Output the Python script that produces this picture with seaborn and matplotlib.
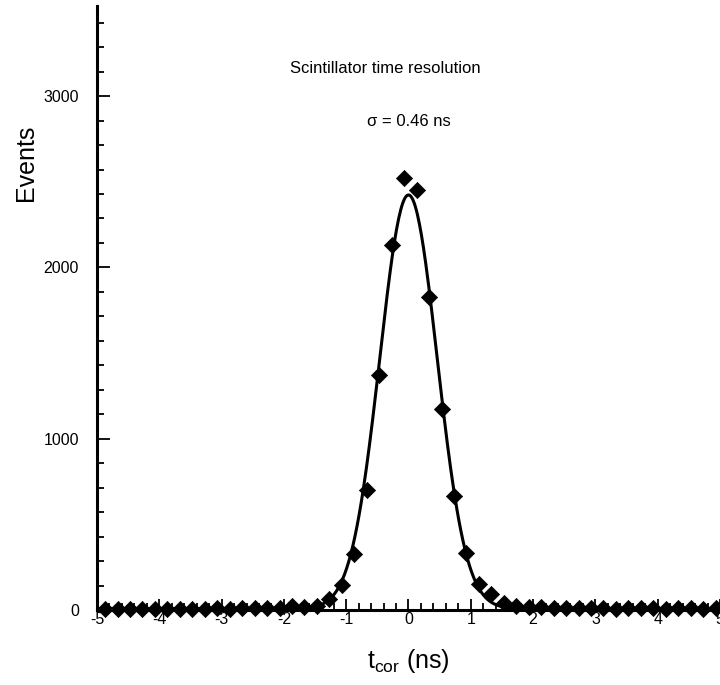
import numpy as np
import pandas as pd
import seaborn as sns
import matplotlib.pyplot as plt
from matplotlib.ticker import MultipleLocator, AutoMinorLocator

# bin centres (ns) and counts
t_bins = [-4.87, -4.67, -4.47, -4.27, -4.07, -3.87, -3.67, -3.47, -3.27, -3.07,
          -2.87, -2.67, -2.47, -2.27, -2.07, -1.87, -1.67, -1.47, -1.27, -1.07,
          -0.87, -0.67, -0.47, -0.27, -0.07, 0.13, 0.33, 0.53, 0.73, 0.93,
          1.13, 1.33, 1.53, 1.73, 1.93, 2.13, 2.33, 2.53, 2.73, 2.93,
          3.13, 3.33, 3.53, 3.73, 3.93, 4.13, 4.33, 4.53, 4.73, 4.93]
events = [5, 6, 4, 7, 5, 6, 8, 6, 7, 9,
          8, 10, 9, 12, 14, 22, 20, 22, 63, 146,
          327, 702, 1370, 2129, 2522, 2450, 1830, 1172, 668, 332,
          152, 92, 39, 23, 19, 16, 12, 10, 11, 9,
          10, 8, 11, 9, 10, 8, 9, 10, 8, 9]

# gaussian fit parameters
fit_amp = 2415
fit_mean = 0.0
fit_sigma = 0.46
fit_base = 8

df = pd.DataFrame({"t": t_bins, "events": events})
t_fit = np.linspace(-5, 5, 600)
fit = pd.DataFrame({"t": t_fit,
                    "events": fit_base + fit_amp * np.exp(-0.5 * ((t_fit - fit_mean) / fit_sigma) ** 2)})

sns.set_style("ticks")
plt.rcParams['font.family'] = ['Liberation Sans', 'DejaVu Sans']
plt.rcParams['axes.unicode_minus'] = False
for key in ["text.color", "axes.labelcolor", "xtick.color", "ytick.color", "axes.edgecolor"]:
    plt.rcParams[key] = "black"

fig = plt.figure(figsize=(7.2, 6.85), dpi=100)
ax = fig.add_axes([0.1347, 0.1095, 0.8653, 0.8815])

sns.lineplot(data=fit, x="t", y="events", color="black", linewidth=2.2, ax=ax)
sns.scatterplot(data=df, x="t", y="events", marker="D", s=68, color="black",
                edgecolor="black", linewidth=0.5, clip_on=False, zorder=3, ax=ax)

ax.set_xlim(-5, 5)
ax.set_ylim(0, 3525)
ax.xaxis.set_major_locator(MultipleLocator(1))
ax.xaxis.set_minor_locator(MultipleLocator(0.2))
ax.yaxis.set_major_locator(MultipleLocator(1000))
ax.yaxis.set_minor_locator(AutoMinorLocator(7))

sns.despine(ax=ax)
for s in ["left", "bottom"]:
    ax.spines[s].set_linewidth(2.2)

ax.tick_params(axis="both", which="both", direction="in", labelsize=11.5, width=1.3)
ax.tick_params(axis="x", which="major", length=8, pad=1.5)
ax.tick_params(axis="x", which="minor", length=5)
ax.tick_params(axis="y", which="major", length=9, pad=13)
ax.tick_params(axis="y", which="minor", length=5)

ax.set_xlabel(r"$\mathregular{t_{cor}}$ (ns)", fontsize=18, labelpad=14)
ax.set_ylabel("Events", fontsize=18)
ax.yaxis.set_label_coords(-0.095, 0.74)

ax.text(-0.38, 3160, "Scintillator time resolution", ha="center", va="center", fontsize=12)
ax.text(0.0, 2850, "\u03c3 = 0.46 ns", ha="center", va="center", fontsize=12)

fig.savefig("out.png", dpi=100)
